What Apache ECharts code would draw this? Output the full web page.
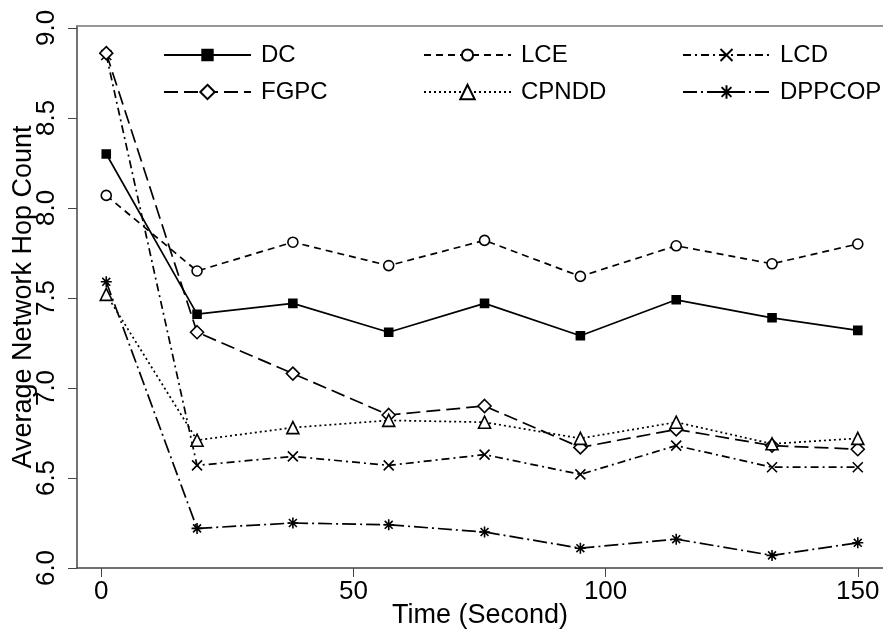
<!DOCTYPE html>
<html>
<head>
<meta charset="utf-8">
<script src="https://cdn.jsdelivr.net/npm/echarts@6/dist/echarts.min.js"></script>
<style>
html,body{margin:0;padding:0;background:#fff;}
#chart{width:883px;height:634px;}
</style>
</head>
<body>
<div id="chart"></div>
<script>
// ---- data ----
const timeSec = [1, 19, 38, 57, 76, 95, 114, 133, 150];
const DC     = [8.30, 7.41, 7.47, 7.31, 7.47, 7.29, 7.49, 7.39, 7.32];
const LCE    = [8.07, 7.65, 7.81, 7.68, 7.82, 7.62, 7.79, 7.69, 7.80];
const LCD    = [8.85, 6.57, 6.62, 6.57, 6.63, 6.52, 6.68, 6.56, 6.56];
const FGPC   = [8.86, 7.31, 7.08, 6.85, 6.90, 6.67, 6.77, 6.68, 6.66];
const CPNDD  = [7.52, 6.71, 6.78, 6.82, 6.81, 6.72, 6.81, 6.69, 6.72];
const DPPCOP = [7.59, 6.22, 6.25, 6.24, 6.20, 6.11, 6.16, 6.07, 6.14];
const xTicks = [0, 50, 100, 150];
const yTicks = [6.0, 6.5, 7.0, 7.5, 8.0, 8.5, 9.0];

const FONT = 'Liberation Sans, Arial, sans-serif';
const pair = (arr) => timeSec.map((t, i) => [t, arr[i]]);

const X_PATH = 'path://M0,0L10,10M10,0L0,10';
const STAR_PATH = 'path://M5,0L5,10M0,5L10,5M1.4,1.4L8.6,8.6M8.6,1.4L1.4,8.6';

function mk(name, data, symbol, size, dash, fill) {
  return {
    name: name,
    type: 'line',
    data: pair(data),
    symbol: symbol,
    symbolSize: size,
    showAllSymbol: true,
    animation: false,
    z: 3,
    lineStyle: {color: '#000', width: 1.7, type: dash},
    itemStyle: {color: fill, borderColor: '#000', borderWidth: 1.6}
  };
}

const series = [
  mk('DC', DC, 'rect', 8, 'solid', '#000'),
  mk('LCE', LCE, 'circle', 10, [7, 5], '#fff'),
  mk('LCD', LCD, X_PATH, 10, [8, 4, 2, 4], '#fff'),
  mk('FGPC', FGPC, 'diamond', 13, [14, 6], '#fff'),
  mk('CPNDD', CPNDD, 'triangle', 12, [2, 3], '#fff'),
  mk('DPPCOP', DPPCOP, STAR_PATH, 11, [14, 4, 2, 4], '#fff')
];

function lg(name, left, top, ih) {
  return {
    data: [name],
    left: left, top: top,
    padding: 0,
    orient: 'horizontal',
    itemWidth: 87, itemHeight: ih,
    selectedMode: false,
    textStyle: {fontFamily: FONT, fontSize: 24, color: '#000', padding: [0, 0, 0, 5]}
  };
}

const chart = echarts.init(document.getElementById('chart'), null, {renderer: 'canvas'});
chart.setOption({
  backgroundColor: '#fff',
  animation: false,
  grid: {left: 77, right: 0, top: 26, bottom: 66, containLabel: false, outerBoundsMode: 'none'},
  legend: [
    lg('DC', 163, 43, 13), lg('LCE', 423, 43, 14), lg('LCD', 682, 43, 15),
    lg('FGPC', 163, 80, 18), lg('CPNDD', 423, 80, 18), lg('DPPCOP', 682, 80, 17)
  ],
  xAxis: [{
    type: 'value', min: -4.8, max: 155,
    name: 'Time (Second)', nameLocation: 'middle', nameGap: 34, nameMoveOverlap: false,
    nameTextStyle: {fontFamily: FONT, fontSize: 27, color: '#000'},
    splitLine: {show: false},
    axisLine: {show: true, onZero: false, lineStyle: {color: '#444', width: 1.5}},
    axisTick: {show: true, length: 9, customValues: xTicks, lineStyle: {color: '#444', width: 1}},
    axisLabel: {customValues: xTicks, margin: 11, fontFamily: FONT, fontSize: 26, color: '#000',
      showMinLabel: true, showMaxLabel: true}
  }, {
    type: 'value', min: -4.8, max: 155, position: 'top',
    axisLine: {show: true, onZero: false, lineStyle: {color: '#777', width: 1.5}},
    axisTick: {show: false}, axisLabel: {show: false}, splitLine: {show: false}
  }],
  yAxis: {
    type: 'value', min: 6, max: 9.011,
    name: 'Average Network Hop Count', nameLocation: 'middle', nameGap: 40, nameMoveOverlap: false,
    nameTextStyle: {fontFamily: FONT, fontSize: 27, color: '#000'},
    splitLine: {show: false},
    axisLine: {show: true, onZero: false, lineStyle: {color: '#444', width: 1.5}},
    axisTick: {show: true, length: 9, customValues: yTicks, lineStyle: {color: '#444', width: 1}},
    axisLabel: {customValues: yTicks, rotate: 90, margin: 17, fontFamily: FONT, fontSize: 26, color: '#000',
      formatter: (v) => Number(v).toFixed(1)}
  },
  series: series
});
</script>
</body>
</html>
